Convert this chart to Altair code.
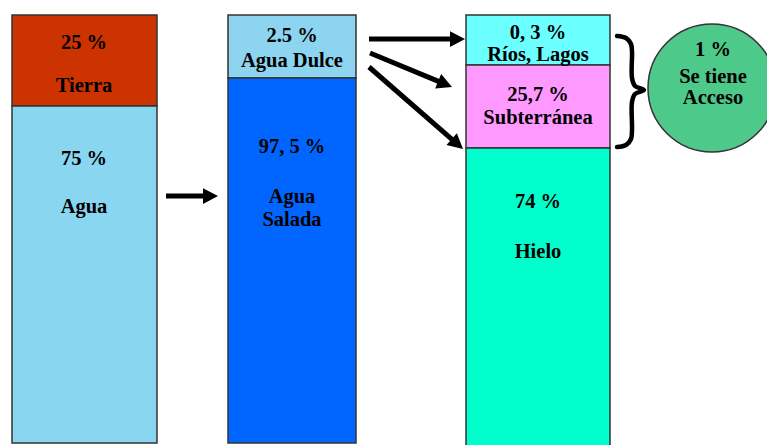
import altair as alt
import pandas as pd
import numpy as np

# ---- content ----
seg_names = ["Tierra", "Agua", "Agua Dulce", "Agua Salada", "Ríos, Lagos", "Subterránea", "Hielo"]
seg_values = [25, 75, 2.5, 97.5, 0.3, 25.7, 74]
seg_colors = ["#CC3300", "#88D6EF", "#8CD4EF", "#0066FF", "#6CFFFF", "#FF99FF", "#00FFCC"]
access_value = 1

# ---- diagram layout (pixel space) ----
seg_x0 = [12, 12, 228, 228, 466, 466, 466]
seg_x1 = [157, 157, 356, 356, 610, 610, 610]
seg_y0 = [15, 106, 15, 78, 15, 65, 148]
seg_y1 = [106, 443, 78, 443, 65, 148, 447]

label_x = [84, 84, 84, 84, 292, 292, 292, 292, 292, 538, 538, 538, 538, 538, 538, 713, 713, 713]
label_y = [43, 86, 159, 207, 36, 61, 147, 197, 220, 33, 55, 95, 118, 202, 252, 50, 77, 98]
label_text = ["25 %", "Tierra", "75 %", "Agua",
              "2.5 %", "Agua Dulce", "97, 5 %", "Agua", "Salada",
              "0, 3 %", "Ríos, Lagos", "25,7 %", "Subterránea", "74 %", "Hielo",
              f"{access_value} %", "Se tiene", "Acceso"]

arrow_x0 = [166, 369, 370, 369]
arrow_y0 = [196, 39, 53, 67]
arrow_x1 = [218, 465, 452, 463]
arrow_y1 = [196, 39, 87, 149]

brace_x = [617, 626, 631, 632, 632, 635, 644, 635, 632, 632, 631, 626, 617]
brace_y = [36, 38, 44, 52, 78, 86, 90, 94, 102, 130, 139, 145, 147]

circle_x, circle_y, circle_r = 712, 88, 64

W, H = 775, 445
PW, PH = W - 16, H - 8
xs = alt.Scale(domain=[8, 8 + PW], nice=False, zero=False)
ys = alt.Scale(domain=[8, 8 + PH], nice=False, zero=False, reverse=True)

segs = pd.DataFrame({"name": seg_names, "value": seg_values, "color": seg_colors,
                     "x0": seg_x0, "x1": seg_x1, "y0": seg_y0, "y1": seg_y1})
rects = alt.Chart(segs).mark_rect(stroke="#333333", strokeWidth=1.5).encode(
    x=alt.X("x0:Q", scale=xs, axis=None), x2="x1:Q",
    y=alt.Y("y0:Q", scale=ys, axis=None), y2="y1:Q",
    fill=alt.Fill("color:N", scale=None),
)

circ = alt.Chart(pd.DataFrame({"x": [circle_x], "y": [circle_y], "v": [access_value]})).mark_arc(
    fill="#4DC98A", stroke="#333333", strokeWidth=1.5, radius=circle_r
).encode(x=alt.X("x:Q", scale=xs, axis=None), y=alt.Y("y:Q", scale=ys, axis=None),
         theta=alt.Theta("v:Q"))

ax0 = np.array(arrow_x0, float); ay0 = np.array(arrow_y0, float)
ax1 = np.array(arrow_x1, float); ay1 = np.array(arrow_y1, float)
ang = np.arctan2(ay1 - ay0, ax1 - ax0)
head_len = 15
arr = pd.DataFrame({"x0": ax0, "y0": ay0,
                    "xe": ax1 - (head_len - 3) * np.cos(ang), "ye": ay1 - (head_len - 3) * np.sin(ang),
                    "xt": ax1, "yt": ay1, "deg": np.degrees(ang)})
shafts = alt.Chart(arr).mark_rule(color="black", strokeWidth=5).encode(
    x=alt.X("x0:Q", scale=xs, axis=None), x2="xe:Q",
    y=alt.Y("y0:Q", scale=ys, axis=None), y2="ye:Q")
heads = alt.Chart(arr).mark_point(shape="M0,0L-2,-1.05L-2,1.05Z", filled=True, color="black",
                                  opacity=1, size=225).encode(
    x=alt.X("xt:Q", scale=xs, axis=None), y=alt.Y("yt:Q", scale=ys, axis=None),
    angle=alt.Angle("deg:Q", scale=None))

br = pd.DataFrame({"x": brace_x, "y": brace_y, "o": list(range(len(brace_x)))})
brace = alt.Chart(br).mark_line(color="black", strokeWidth=4.5, interpolate="catmull-rom",
                                strokeCap="round").encode(
    x=alt.X("x:Q", scale=xs, axis=None), y=alt.Y("y:Q", scale=ys, axis=None), order="o:Q")

lab = pd.DataFrame({"x": label_x, "y": label_y, "t": label_text})
texts = alt.Chart(lab).mark_text(font="Liberation Serif", fontWeight="bold", fontSize=20.5,
                                 color="black", baseline="middle", align="center").encode(
    x=alt.X("x:Q", scale=xs, axis=None), y=alt.Y("y:Q", scale=ys, axis=None), text="t:N")

chart = alt.layer(rects, circ, shafts, heads, brace, texts).properties(
    width=PW, height=PH, padding=0, autosize=alt.AutoSizeParams(type="none"),
    background="white"
).configure_view(stroke=None)

chart.save("out.html", embed_options={"renderer": "svg", "actions": False})
